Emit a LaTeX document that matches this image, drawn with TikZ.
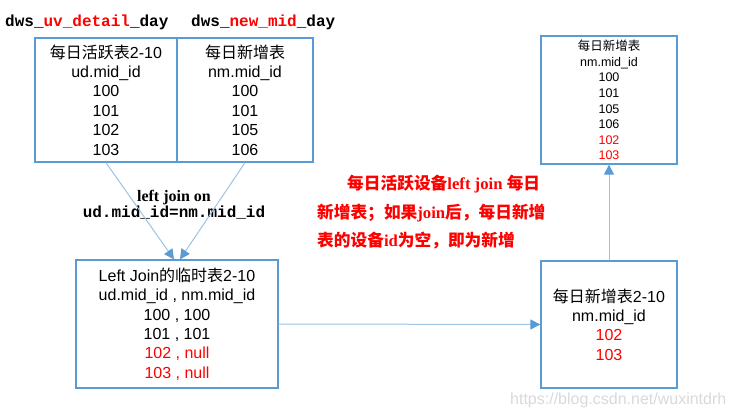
\documentclass[tikz,border=0pt]{standalone}
\usepackage{fontspec}
\setmainfont{Liberation Sans}
\setmonofont{Liberation Mono}
\newfontfamily\zhfont{Noto Sans CJK SC}
\newfontfamily\serifen{Liberation Serif}
\usetikzlibrary{arrows.meta}
\definecolor{boxblue}{HTML}{5B9BD5}
\definecolor{lineblue}{HTML}{9DC3E6}
\definecolor{redtxt}{HTML}{FF0000}
\tikzset{
  tbl/.style={draw=boxblue, line width=1.3pt, inner sep=0pt, align=center,
    font=\fontsize{16}{19.4}\selectfont},
  smalltbl/.style={draw=boxblue, line width=1.3pt, inner sep=0pt, align=center,
    font=\fontsize{12.5}{15.6}\selectfont},
  conn/.style={draw=lineblue, line width=1pt,
    -{Triangle[length=10pt,width=10pt,color=boxblue]}},
  tname/.style={anchor=base west, inner sep=0pt, font=\fontsize{16}{16}\ttfamily\bfseries},
}
\begin{document}
\begin{tikzpicture}[x=1pt,y=-1pt]
\useasboundingbox (0,0) rectangle (731,415);
% top tables
\node[tbl, minimum width=142pt, minimum height=124pt] (ud) at (106,100)
  {{\zhfont 每日活跃表}2-10\\ud.mid\_id\\100\\101\\102\\103};
\node[tbl, minimum width=136pt, minimum height=124pt] (nm) at (245,100)
  {{\zhfont 每日新增表}\\nm.mid\_id\\100\\101\\105\\106};
\node[tname] (udname) at (5,27) {dws\_\textcolor{redtxt}{uv\_detail}\_day};
\node[tname] (nmname) at (191,27) {dws\_\textcolor{redtxt}{new\_mid}\_day};
% join table
\node[tbl, minimum width=202pt, minimum height=128pt] (j) at (177,324)
  {Left Join{\zhfont 的临时表}2-10\\ud.mid\_id , nm.mid\_id\\100 , 100\\101 , 101\\
   \textcolor{redtxt}{102 , null}\\\textcolor{redtxt}{103 , null}};
% new table 2-10
\node[tbl, minimum width=136pt, minimum height=127pt] (n) at (609,324.5)
  {{\zhfont 每日新增表}2-10\\nm.mid\_id\\\textcolor{redtxt}{102}\\\textcolor{redtxt}{103}};
% result table
\node[smalltbl, minimum width=136pt, minimum height=128pt] (t) at (609,100)
  {{\zhfont 每日新增表}\\nm.mid\_id\\100\\101\\105\\106\\\textcolor{redtxt}{102}\\\textcolor{redtxt}{103}};
% join label
\node[align=center, inner sep=0pt] (lbl) at (174,205)
  {{\serifen\bfseries\fontsize{16}{19}\selectfont left join on}\\[0pt]
   {\ttfamily\bfseries\fontsize{16}{19}\selectfont ud.mid\_id=nm.mid\_id}};
% red note
\node[anchor=north west, align=left, inner sep=0pt, text=redtxt,
  font=\fontsize{16.7}{28.5}\selectfont\bfseries] (note) at (317,175)
  {\hspace*{30pt}{\zhfont\bfseries 每日活跃设备}{\serifen\bfseries left join }{\zhfont\bfseries 每日}\\
   {\zhfont\bfseries 新增表；如果}{\serifen\bfseries join}{\zhfont\bfseries 后，每日新增}\\
   {\zhfont\bfseries 表的设备}{\serifen\bfseries id}{\zhfont\bfseries 为空，即为新增}};
% connectors
\draw[conn] (ud.south) -- ([xshift=-3pt]j.north);
\draw[conn] (nm.south) -- ([xshift=3pt]j.north);
\draw[conn] (j.east) -- (n.west);
\draw[conn] (n.north) -- (t.south);
% watermark
\node[anchor=base west, inner sep=0pt, text=black!15, font=\fontsize{16}{16}\selectfont] (wm) at (510,404)
  {https://blog.csdn.net/wuxintdrh};
\end{tikzpicture}
\end{document}
